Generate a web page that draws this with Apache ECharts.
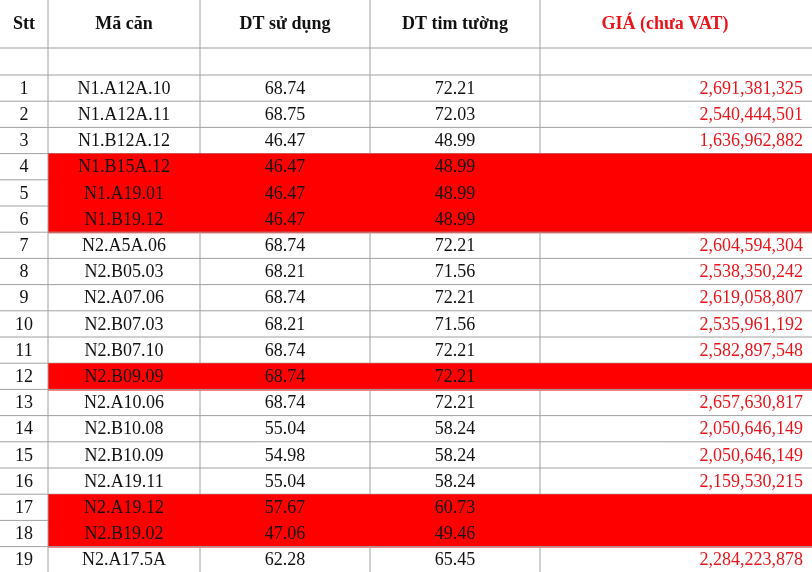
<!DOCTYPE html>
<html>
<head>
<meta charset="utf-8">
<script src="https://cdn.jsdelivr.net/npm/echarts@6/dist/echarts.min.js"></script>
<style>html,body{margin:0;padding:0;background:#fff}#main{width:812px;height:572px}</style>
</head>
<body>
<div id="main"></div>
<script>
// dữ liệu bảng
var headers = ['Stt', 'Mã căn', 'DT sử dụng', 'DT tim tường', 'GIÁ (chưa VAT)'];
var stt = [1,2,3,4,5,6,7,8,9,10,11,12,13,14,15,16,17,18,19];
var codes = ['N1.A12A.10','N1.A12A.11','N1.B12A.12','N1.B15A.12','N1.A19.01','N1.B19.12','N2.A5A.06','N2.B05.03','N2.A07.06','N2.B07.03','N2.B07.10','N2.B09.09','N2.A10.06','N2.B10.08','N2.B10.09','N2.A19.11','N2.A19.12','N2.B19.02','N2.A17.5A'];
var dtUse = [68.74,68.75,46.47,46.47,46.47,46.47,68.74,68.21,68.74,68.21,68.74,68.74,68.74,55.04,54.98,55.04,57.67,47.06,62.28];
var dtWall = [72.21,72.03,48.99,48.99,48.99,48.99,72.21,71.56,72.21,71.56,72.21,72.21,72.21,58.24,58.24,58.24,60.73,49.46,65.45];
var prices = [2691381325,2540444501,1636962882,null,null,null,2604594304,2538350242,2619058807,2535961192,2582897548,null,2657630817,2050646149,2050646149,2159530215,null,null,2284223878];

var colX = [0, 48, 200, 370, 540, 812];
var headH = 48, blankH = 27, rowH = 26.2;
var font = '"Liberation Serif", serif';
var red = '#e8141b';

var myChart = echarts.init(document.getElementById('main'));

function line(api, x1, y1, x2, y2) {
  var a = api.coord([x1, y1]), b = api.coord([x2, y2]);
  return {type: 'line', shape: {x1: a[0], y1: a[1], x2: b[0], y2: b[1]}, style: {stroke: '#a0a0a0', lineWidth: 1}};
}
function txt(api, x, y, s, align, color, bold) {
  var p = api.coord([x, y]);
  return {type: 'text', x: p[0], y: p[1], style: {text: s, font: (bold ? 'bold ' : '') + '18px ' + font, fill: color, align: align, verticalAlign: 'middle'}};
}

function renderRow(params, api) {
  var i = api.value(0);
  var top = headH + blankH + i * rowH, mid = top + rowH / 2 + 1;
  var isRed = prices[i] == null, nextRed = i + 1 < prices.length && prices[i + 1] == null;
  var kids = [];
  if (isRed) {
    var a = api.coord([colX[1], top]), b = api.coord([colX[5], top + rowH]);
    kids.push({type: 'rect', shape: {x: a[0], y: a[1], width: b[0] - a[0], height: b[1] - a[1] + 1}, style: {fill: '#ff0000'}});
  }
  kids.push(line(api, 0, top + rowH, (isRed && nextRed) ? colX[1] : 812, top + rowH));
  kids.push(line(api, colX[1], top, colX[1], top + rowH));
  if (!isRed) for (var c = 2; c < 5; c++) kids.push(line(api, colX[c], top, colX[c], top + rowH));
  kids.push(txt(api, 24, mid, String(stt[i]), 'center', '#111'));
  kids.push(txt(api, 124, mid, codes[i], 'center', '#111'));
  kids.push(txt(api, 285, mid, dtUse[i].toFixed(2), 'center', '#111'));
  kids.push(txt(api, 455, mid, dtWall[i].toFixed(2), 'center', '#111'));
  if (!isRed) kids.push(txt(api, 803, mid, prices[i].toLocaleString('en-US'), 'right', red));
  return {type: 'group', children: kids};
}

function renderHead(params, api) {
  var kids = [];
  var centers = [24, 124, 285, 455, 665];
  headers.forEach(function (h, c) {
    kids.push(txt(api, centers[c], 24, h, 'center', c === 4 ? red : '#111', true));
  });
  kids.push(line(api, 0, headH, 812, headH));
  kids.push(line(api, 0, headH + blankH, 812, headH + blankH));
  for (var c = 1; c < 5; c++) kids.push(line(api, colX[c], 0, colX[c], headH + blankH));
  return {type: 'group', children: kids};
}

var option = {
  animation: false,
  grid: {left: 0, right: 0, top: 0, bottom: 0},
  xAxis: {type: 'value', min: 0, max: 812, show: false},
  yAxis: {type: 'value', min: 0, max: 572, inverse: true, show: false},
  series: [
    {type: 'custom', clip: false, renderItem: renderHead, data: [[0]]},
    {type: 'custom', clip: false, renderItem: renderRow, data: stt.map(function (e, i) { return [i]; })}
  ]
};
myChart.setOption(option);
</script>
</body>
</html>
